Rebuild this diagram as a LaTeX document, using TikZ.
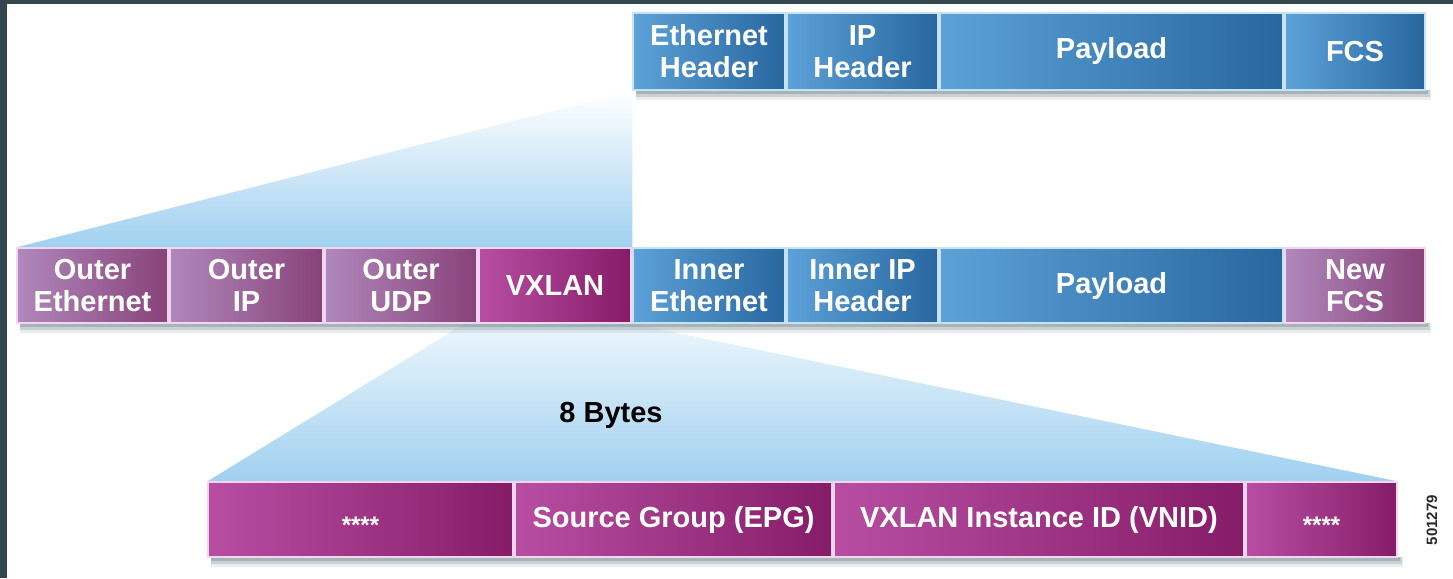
\documentclass[tikz,border=0pt]{standalone}
\usepackage{fontspec}
\setmainfont{Liberation Sans}
\usetikzlibrary{calc}

\definecolor{frameC}{RGB}{52,70,79}
\definecolor{blueL}{RGB}{92,162,216}
\definecolor{blueD}{RGB}{40,102,160}
\definecolor{lavL}{RGB}{176,136,188}
\definecolor{lavD}{RGB}{136,66,122}
\definecolor{magL}{RGB}{184,78,162}
\definecolor{magD}{RGB}{134,28,104}
\definecolor{edgeB}{RGB}{200,226,245}
\definecolor{edgeP}{RGB}{240,214,238}
\definecolor{skyC}{RGB}{160,208,240}
\definecolor{skyT}{RGB}{236,246,252}
\definecolor{shadowC}{RGB}{90,112,120}
\definecolor{numC}{RGB}{40,40,40}

\pgfdeclarelayer{fans}
\pgfdeclarelayer{shadows}
\pgfsetlayers{fans,shadows,main}

\tikzset{
  cellbox/.style={rectangle, inner sep=0pt, line width=1.3pt, text=white,
    align=center, font=\fontsize{29}{32}\selectfont\bfseries},
  bluecell/.style={cellbox, draw=edgeB, left color=blueL, right color=blueD},
  lavcell/.style={cellbox, draw=edgeP, left color=lavL, right color=lavD},
  magcell/.style={cellbox, draw=edgeP, left color=magL, right color=magD},
  starstext/.style={text=white, font=\fontsize{24}{24}\selectfont\bfseries, anchor=base},
  fan/.style={top color=white, bottom color=skyC},
  shadowstep/.style={fill=shadowC, fill opacity=#1},
}

% cell: name, x1, x2, y1, y2, style, text
\newcommand\pcell[7]{%
  \node[#6, minimum width=#3pt-#2pt, minimum height=#5pt-#4pt]
    (#1) at ({(#2+#3)/2},{(#4+#5)/2}) {#7};}

% soft shadow under and right of a row, from its first and last cell,
% built from translucent strips that thin out away from the row
\newcommand\rowshadow[2]{%
  \foreach \d/\o in {3/0.30, 6/0.22, 9/0.12} {
    \fill[shadowstep=\o]
      ($(#1.south west)+(4,-1)$) rectangle ($(#2.south east)+(\d/2+1,\d)$);
  }}

\begin{document}
\begin{tikzpicture}[x=1pt,y=-1pt]
  \useasboundingbox (0,0) rectangle (1453,578);
  \begin{pgfonlayer}{fans}
    \fill[white] (0,0) rectangle (1453,578);
    \fill[frameC] (0,0) rectangle (1453,4);
    \fill[frameC] (0,0) rectangle (7,578);
  \end{pgfonlayer}

  % original frame
  \pcell{eth}{633}{785}{13}{90}{bluecell}{Ethernet\\Header}
  \pcell{ip}{787}{938}{13}{90}{bluecell}{IP\\Header}
  \pcell{pay}{940}{1283}{13}{90}{bluecell}{Payload}
  \pcell{fcs}{1285}{1425}{13}{90}{bluecell}{FCS}

  % encapsulated frame
  \pcell{oeth}{17}{168}{248}{323}{lavcell}{Outer\\Ethernet}
  \pcell{oip}{170}{323}{248}{323}{lavcell}{Outer\\IP}
  \pcell{oudp}{325}{477}{248}{323}{lavcell}{Outer\\UDP}
  \pcell{vx}{479}{631}{248}{323}{magcell}{VXLAN}
  \pcell{ieth}{633}{785}{248}{323}{bluecell}{Inner\\Ethernet}
  \pcell{iip}{787}{938}{248}{323}{bluecell}{Inner IP\\Header}
  \pcell{pay2}{940}{1283}{248}{323}{bluecell}{Payload}
  \pcell{nfcs}{1285}{1425}{248}{323}{lavcell}{New\\FCS}

  % VXLAN header
  \pcell{r1}{208}{513}{482}{557}{magcell}{}
  \pcell{epg}{515}{832}{482}{557}{magcell}{Source Group (EPG)}
  \pcell{vnid}{834}{1244}{482}{557}{magcell}{VXLAN Instance ID (VNID)}
  \pcell{r2}{1246}{1397}{482}{557}{magcell}{}

  \node[starstext] (s1) at ($(r1.center)+(0,14)$) {****};
  \node[starstext] (s2) at ($(r2.center)+(0,14)$) {****};

  % drop shadows
  \begin{pgfonlayer}{shadows}
    \rowshadow{eth}{fcs}
    \rowshadow{oeth}{nfcs}
    \rowshadow{r1}{r2}
  \end{pgfonlayer}

  % expansion fans
  \begin{pgfonlayer}{fans}
    \shade[fan] (eth.south west) -- (ieth.north west) -- (oeth.north west) -- cycle;
    \shade[fan, top color=skyT] ($(vx.south west)+(-14,0)$) -- (vx.south east)
       -- (r2.north east) -- (r1.north west) -- cycle;
  \end{pgfonlayer}

  \node[font=\fontsize{29}{32}\selectfont\bfseries, text=black] (bytes) at (611,415) {8 Bytes};
  \node[font=\fontsize{15}{15}\selectfont\bfseries, text=numC, rotate=90] (fig) at (1432,520) {501279};
\end{tikzpicture}
\end{document}
